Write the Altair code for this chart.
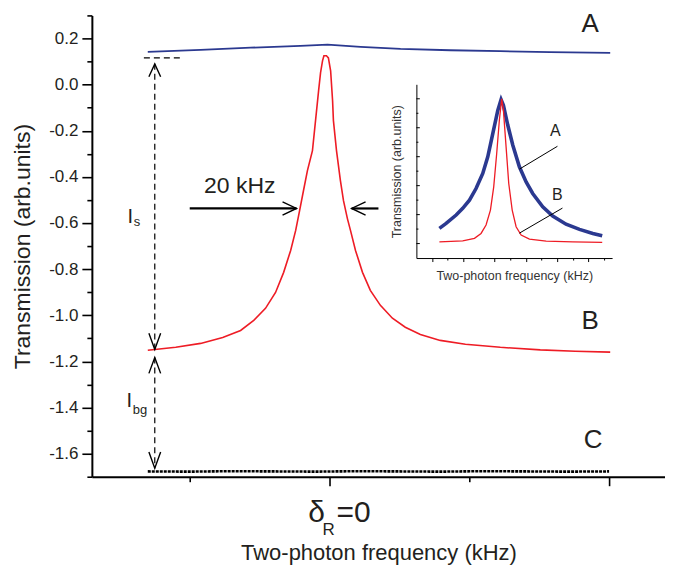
import altair as alt
import pandas as pd

FONT = "Liberation Sans"
INK = "#231f20"
BLUE = "#2b3990"
RED = "#ee1c25"

# ---------------- main panel data (x: kHz from resonance, y: transmission) ----------------
a_x = [-65.0, -46.1, -28.2, -10.4, -0.7, 11.1, 25.4, 43.2, 61.1, 78.9, 100.4]
a_y = [0.142, 0.151, 0.160, 0.168, 0.173, 0.164, 0.155, 0.149, 0.145, 0.141, 0.138]

b_x = [-65.0, -55.0, -46.1, -38.2, -31.8, -27.1, -22.9, -19.3, -16.4, -13.9,
       -12.1, -10.7, -9.3, -7.9, -6.1, -5.0, -3.9, -3.2, -2.5, -2.0,
       -1.1, -0.4, 0.4, 1.1, 1.4, 2.5, 3.9, 5.0, 6.4, 7.5,
       9.3, 11.8, 14.6, 18.2, 22.5, 27.1, 32.5, 39.6, 48.6, 61.1,
       75.4, 87.9, 100.4]
b_y = [-1.152, -1.139, -1.122, -1.096, -1.066, -1.022, -0.970, -0.901, -0.814, -0.719,
       -0.632, -0.546, -0.459, -0.373, -0.286, -0.156, -0.026, 0.052, 0.103, 0.125,
       0.125, 0.116, 0.060, -0.070, -0.156, -0.286, -0.416, -0.503, -0.581, -0.632,
       -0.719, -0.814, -0.892, -0.957, -1.013, -1.052, -1.083, -1.109, -1.126, -1.139,
       -1.150, -1.156, -1.160]

c_x = [-65, -50, -35, -20, -5, 10, 25, 40, 55, 70, 85, 100]
c_y = [-1.677, -1.678, -1.676, -1.677, -1.678, -1.676, -1.677, -1.678, -1.676, -1.677, -1.678, -1.677]

y_tick_values = [-1.7, -1.6, -1.5, -1.4, -1.3, -1.2, -1.1, -1.0, -0.9, -0.8, -0.7,
                 -0.6, -0.5, -0.4, -0.3, -0.2, -0.1, 0.0, 0.1, 0.2, 0.3]
x_tick_values = [-50, 0, 50, 100]

# annotation geometry in data units
dash_seg = ["is", "is", "ibg", "ibg", "top", "top"]
dash_x = [-62.5, -62.5, -62.5, -62.5, -66.4, -53.2]
dash_y = [0.090, -1.148, -1.183, -1.663, 0.116, 0.116]

arrow_seg = ["r", "r", "l", "l"]
arrow_x = [-50.0, -11.8, 17.5, 7.9]
arrow_y = [-0.537, -0.537, -0.537, -0.537]

head_seg = ["rh", "rh", "rh", "lh", "lh", "lh",
            "c1", "c1", "c1", "c2", "c2", "c2", "c3", "c3", "c3", "c4", "c4", "c4"]
head_x = [-16.8, -11.8, -16.8, 12.9, 7.9, 12.9,
          -64.6, -62.5, -60.4, -64.6, -62.5, -60.4, -64.6, -62.5, -60.4, -64.6, -62.5, -60.4]
head_y = [-0.508, -0.537, -0.566, -0.508, -0.537, -0.566,
          0.034, 0.090, 0.034, -1.078, -1.148, -1.078, -1.252, -1.183, -1.252, -1.593, -1.663, -1.593]

lab_c_text = ["A", "B", "C"]
lab_c_x = [93.2, 93.2, 94.3]
lab_c_y = [0.264, -1.026, -1.542]

khz_text = ["20 kHz"]
khz_x = [-32.1]
khz_y = [-0.438]

big_i_text = ["I", "I"]
big_i_x = [-71.3, -71.6]
big_i_y = [-0.602, -1.399]
sub_text = ["s", "bg"]
sub_x = [-70.0, -70.4]
sub_y = [-0.615, -1.429]

delta_text = ["δ"]
delta_x = [-4.6]
delta_y = [-1.896]
r_text = ["R"]
r_x = [-2.5]
r_y = [-1.952]
eq_text = ["=0"]
eq_x = [2.5]
eq_y = [-1.896]

# ---------------- inset data ----------------
ia_x = [0.47, 0.90, 1.54, 1.96, 2.39, 2.81, 3.24, 3.56, 3.88, 4.20, 4.41, 4.56,
        4.84, 5.16, 5.58, 6.01, 6.43, 7.07, 7.71, 8.56, 9.42, 10.27, 10.87]
ia_y = [1.05, 1.39, 1.97, 2.43, 3.00, 3.80, 4.84, 5.99, 7.60, 9.20, 9.94, 9.55,
        8.17, 6.79, 5.30, 4.26, 3.46, 2.54, 1.90, 1.34, 0.98, 0.70, 0.54]
ib_x = [0.47, 1.96, 2.71, 3.13, 3.45, 3.73, 3.94, 4.13, 4.30, 4.45,
        4.56, 4.73, 4.90, 5.12, 5.37, 5.69, 6.22, 7.29, 8.99, 10.87]
ib_y = [0.12, 0.19, 0.36, 0.70, 1.28, 2.31, 3.92, 6.22, 8.52, 10.0,
        9.2, 6.68, 4.15, 2.31, 1.16, 0.59, 0.31, 0.17, 0.12, 0.08]
ix_tick_values = [0, 1, 2, 3, 4, 5, 6, 7, 8, 9, 10, 11]
iy_tick_values = [0, 1, 2, 3, 4, 5, 6, 7, 8, 9, 10]
lead_seg = ["A", "A", "B", "B"]
lead_x = [8.01, 5.58, 8.33, 5.58]
lead_y = [6.72, 5.14, 2.45, 0.72]
ilab_text = ["A", "B"]
ilab_x = [7.88, 8.01]
ilab_y = [7.76, 3.34]

# ---------------- main panel ----------------
xs = alt.Scale(domain=[-85, 120], nice=False, zero=False)
ys = alt.Scale(domain=[-1.7, 0.3], nice=False, zero=False)

major_y = "abs(round(datum.value*10)) % 2 == 0"
yaxis = alt.Axis(
    values=y_tick_values,
    labelExpr="(" + major_y + ") ? replace(format(datum.value, '.1f'), '\u2212', '-') : ''",
    tickSize={"condition": {"test": major_y, "value": 10}, "value": 5},
    tickWidth=1.6, tickColor="black", domainColor="black", domainWidth=2,
    labelFont=FONT, labelFontSize=17, labelColor=INK, labelPadding=4,
    title="Transmission (arb.units)", titleFont=FONT, titleFontSize=23,
    titleFontWeight="normal", titleColor=INK, titlePadding=14, grid=False,
)
xaxis = alt.Axis(
    values=x_tick_values, labels=False,
    tickSize={"condition": {"test": "datum.value % 100 == 0", "value": 9}, "value": 5},
    tickWidth=1.6, tickColor="black", domainColor="black", domainWidth=2,
    title="Two-photon frequency (kHz)", titleFont=FONT, titleFontSize=22,
    titleFontWeight="normal", titleColor=INK, titlePadding=56, grid=False,
)


def X():
    return alt.X("x:Q", scale=xs, axis=xaxis)


def Y():
    return alt.Y("y:Q", scale=ys, axis=yaxis)


def df(x, y, **extra):
    d = {"x": x, "y": y}
    d.update(extra)
    out = pd.DataFrame(d)
    out["k"] = range(len(out))
    return out


line_a = alt.Chart(df(a_x, a_y)).mark_line(color=BLUE, strokeWidth=1.8).encode(X(), Y())
line_b = alt.Chart(df(b_x, b_y)).mark_line(color=RED, strokeWidth=1.6).encode(X(), Y())
line_c = alt.Chart(df(c_x, c_y)).mark_line(color="black", strokeWidth=2.6, strokeDash=[3, 1]).encode(X(), Y())

dashes = alt.Chart(df(dash_x, dash_y, seg=dash_seg)).mark_line(
    color="black", strokeWidth=1.2, strokeDash=[6, 4]
).encode(X(), Y(), detail="seg:N", order="k:Q")

arrows = alt.Chart(df(arrow_x, arrow_y, seg=arrow_seg)).mark_line(
    color="black", strokeWidth=2.2
).encode(X(), Y(), detail="seg:N", order="k:Q")

heads = alt.Chart(df(head_x, head_y, seg=head_seg)).mark_line(
    color="black", strokeWidth=1.4
).encode(X(), Y(), detail="seg:N", order="k:Q")


def text_layer(t, x, y, size, align="center", baseline="alphabetic", color=INK):
    return alt.Chart(df(x, y, t=t)).mark_text(
        font=FONT, fontSize=size, align=align, baseline=baseline, color=color
    ).encode(X(), Y(), text="t:N")


txt_abc = text_layer(lab_c_text, lab_c_x, lab_c_y, 26, baseline="middle")
txt_khz = text_layer(khz_text, khz_x, khz_y, 23, baseline="middle")
txt_i = text_layer(big_i_text, big_i_x, big_i_y, 20)
txt_sub = text_layer(sub_text, sub_x, sub_y, 13, align="left")
txt_delta = text_layer(delta_text, delta_x, delta_y, 30)
txt_r = text_layer(r_text, r_x, r_y, 17, align="left")
txt_eq = text_layer(eq_text, eq_x, eq_y, 30, align="left")

main = alt.layer(line_a, line_b, line_c, dashes, arrows, heads,
                 txt_abc, txt_khz, txt_i, txt_sub, txt_delta, txt_r, txt_eq)

# ---------------- inset ----------------
ixs = alt.Scale(domain=[-1, 11.5], range=[325, 521], nice=False, zero=False)
iys = alt.Scale(domain=[-1, 11], range=[243, 69], nice=False, zero=False)
ixaxis = alt.Axis(
    orient="bottom", offset=-219, values=ix_tick_values, labels=False,
    tickSize={"condition": {"test": "datum.value % 2 == 0", "value": 3.5}, "value": 2},
    tickWidth=1, tickColor="black", domainColor="black", domainWidth=1,
    title="Two-photon frequency (kHz)", titleFont=FONT, titleFontSize=12.5,
    titleFontWeight="normal", titleColor="#333333", titlePadding=7, grid=False,
)
iyaxis = alt.Axis(
    orient="left", offset=-325, ticks=False, labels=False,
    domainColor="black", domainWidth=1,
    title="Transmission  (arb.units)", titleFont=FONT, titleFontSize=12.5,
    titleFontWeight="normal", titleColor="#333333", titlePadding=13, grid=False,
)


def IX():
    return alt.X("x:Q", scale=ixs, axis=ixaxis)


def IY():
    return alt.Y("y:Q", scale=iys, axis=iyaxis)


in_a = alt.Chart(df(ia_x, ia_y)).mark_line(color=BLUE, strokeWidth=3.6).encode(IX(), IY())
in_b = alt.Chart(df(ib_x, ib_y)).mark_line(color=RED, strokeWidth=1.3).encode(IX(), IY())
in_lead = alt.Chart(df(lead_x, lead_y, seg=lead_seg)).mark_line(
    color="black", strokeWidth=1
).encode(IX(), IY(), detail="seg:N", order="k:Q")
in_lab = alt.Chart(df(ilab_x, ilab_y, t=ilab_text)).mark_text(
    font=FONT, fontSize=16, color=INK, baseline="middle"
).encode(IX(), IY(), text="t:N")
in_ticks = alt.Chart(pd.DataFrame({"y": iy_tick_values})).transform_calculate(
    x="-1", xe="datum.y % 2 == 0 ? -0.78 : -0.87"
).mark_rule(color="black", strokeWidth=1).encode(
    IX(), x2="xe:Q", y=IY()
)

inset = alt.layer(in_a, in_b, in_lead, in_lab, in_ticks)

chart = alt.layer(main, inset).resolve_scale(x="independent", y="independent").properties(
    width=574, height=462,
    autosize=alt.AutoSizeParams(type="none"),
    padding={"left": 84, "top": 7, "right": 0, "bottom": 91},
).configure_view(stroke=None)

chart.save("out.html", embed_options={"renderer": "svg", "actions": False})
